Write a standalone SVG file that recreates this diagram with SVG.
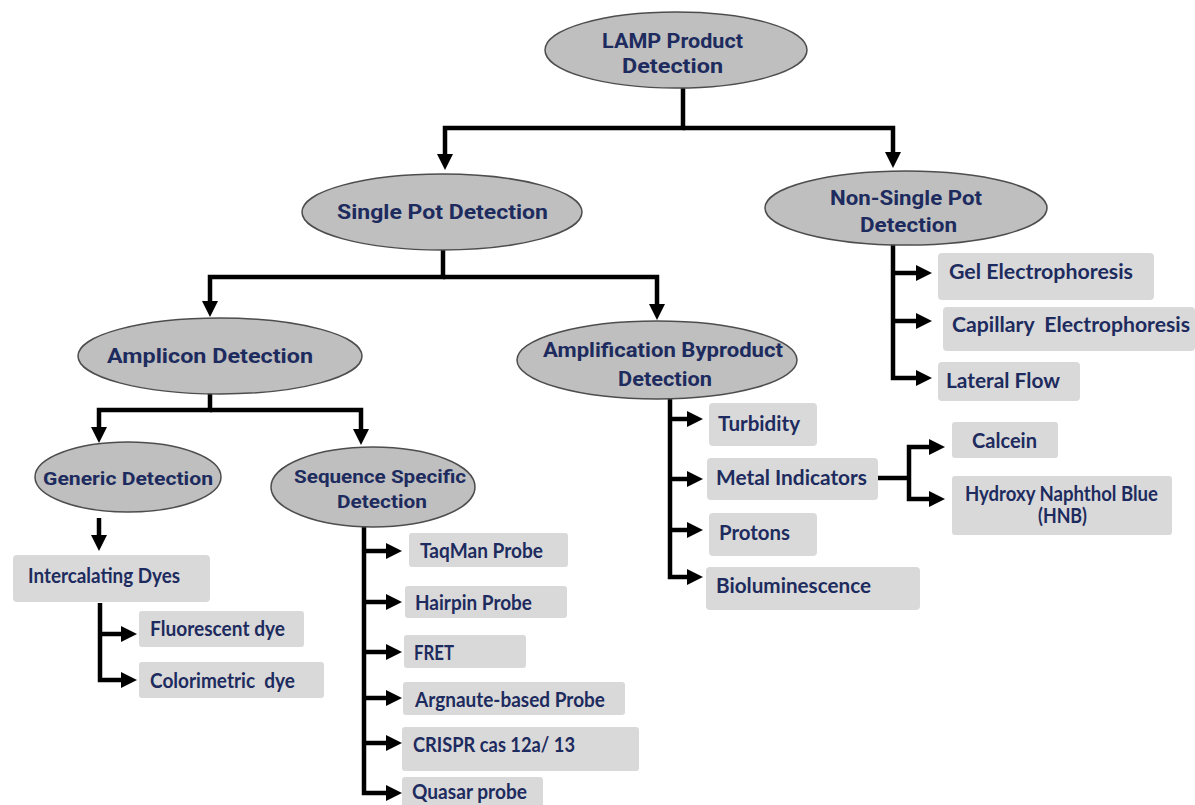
<svg xmlns="http://www.w3.org/2000/svg" width="1195" height="805" viewBox="0 0 1195 805">
<defs>
<marker id="arr" markerUnits="userSpaceOnUse" markerWidth="16" markerHeight="16" viewBox="0 0 16 16" refX="6" refY="8" orient="auto">
<path d="M0,0 L16,8 L0,16 z" fill="#000"/>
</marker>
<style>
.ell{fill:#bfbfbf;stroke:#4d4d4d;stroke-width:1.5}
.box{fill:#d9d9d9}
.et{font-family:Roboto,"Liberation Sans",sans-serif;font-weight:700;font-size:21px;fill:#1d2b5e;white-space:pre}
.es{font-size:19px}
.bt{font-family:Lato,"Liberation Sans",sans-serif;font-weight:700;font-size:20px;fill:#1d2b5e;white-space:pre}
.c{fill:none;stroke:#000;stroke-width:4.5;stroke-linejoin:miter}
.a{marker-end:url(#arr)}
</style>
</defs>
<rect width="1195" height="805" fill="#fff"/>

<g id="connectors">
<path class="c a" d="M683,88 V128 H445 V160"/>
<path class="c a" d="M683,128 H893 V158"/>
<path class="c a" d="M443,250 V277 H210 V307"/>
<path class="c a" d="M443,277 H657 V310"/>
<path class="c a" d="M210,393 V410 H99 V433"/>
<path class="c a" d="M210,410 H361 V435"/>
<path class="c a" d="M99,518 V541"/>
<path class="c a" d="M100,603 V680 H127"/>
<path class="c a" d="M100,634 H127"/>
<path class="c a" d="M364,525 V793 H392"/>
<path class="c a" d="M364,551 H392"/>
<path class="c a" d="M364,602 H392"/>
<path class="c a" d="M364,652 H392"/>
<path class="c a" d="M364,698 H392"/>
<path class="c a" d="M364,743 H392"/>
<path class="c a" d="M670,398 V577 H693"/>
<path class="c a" d="M670,419 H693"/>
<path class="c a" d="M670,479 H693"/>
<path class="c a" d="M670,530 H693"/>
<path class="c" d="M878,478 H909"/>
<path class="c a" d="M909,478 V447 H935"/>
<path class="c a" d="M909,478 V499 H935"/>
<path class="c a" d="M893,243 V378 H922"/>
<path class="c a" d="M893,273 H922"/>
<path class="c a" d="M893,321 H922"/>
</g>

<g id="lamp">
<ellipse class="ell" cx="676" cy="50" rx="131" ry="38"/>
<text class="et" x="672.5" y="48" text-anchor="middle" textLength="141" lengthAdjust="spacingAndGlyphs">LAMP Product</text>
<text class="et" x="672.5" y="73" text-anchor="middle" textLength="101" lengthAdjust="spacingAndGlyphs">Detection</text>
</g>

<g id="single-pot">
<ellipse class="ell" cx="442" cy="212" rx="140" ry="38"/>
<text class="et" x="442.5" y="219" text-anchor="middle" textLength="211" lengthAdjust="spacingAndGlyphs">Single Pot Detection</text>
</g>

<g id="non-single-pot">
<ellipse class="ell" cx="906" cy="208" rx="141" ry="37"/>
<text class="et" x="906" y="205" text-anchor="middle" textLength="152" lengthAdjust="spacingAndGlyphs">Non-Single Pot</text>
<text class="et" x="908.5" y="232" text-anchor="middle" textLength="97" lengthAdjust="spacingAndGlyphs">Detection</text>
</g>

<g id="amplicon">
<ellipse class="ell" cx="220" cy="356" rx="142" ry="38"/>
<text class="et" x="210" y="363" text-anchor="middle" textLength="206" lengthAdjust="spacingAndGlyphs">Amplicon Detection</text>
</g>

<g id="byproduct">
<ellipse class="ell" cx="657" cy="360" rx="140" ry="39"/>
<text class="et" x="663" y="357" text-anchor="middle" textLength="240" lengthAdjust="spacingAndGlyphs">Amplification Byproduct</text>
<text class="et" x="665" y="386" text-anchor="middle" textLength="94" lengthAdjust="spacingAndGlyphs">Detection</text>
</g>

<g id="generic">
<ellipse class="ell" cx="128" cy="477" rx="93" ry="35"/>
<text class="et es" x="128" y="485" text-anchor="middle" textLength="170" lengthAdjust="spacingAndGlyphs">Generic Detection</text>
</g>

<g id="sequence">
<ellipse class="ell" cx="373" cy="487" rx="102" ry="40"/>
<text class="et es" x="380" y="483" text-anchor="middle" textLength="172" lengthAdjust="spacingAndGlyphs">Sequence Specific</text>
<text class="et es" x="382" y="508" text-anchor="middle" textLength="90" lengthAdjust="spacingAndGlyphs">Detection</text>
</g>

<g id="gel">
<rect class="box" x="938" y="253" width="216" height="47" rx="4"/>
<text class="bt" x="949" y="279" textLength="184" lengthAdjust="spacingAndGlyphs">Gel Electrophoresis</text>
</g>
<g id="capillary">
<rect class="box" x="943" y="307" width="252" height="44" rx="4"/>
<text class="bt" x="952" y="332" textLength="238" lengthAdjust="spacingAndGlyphs">Capillary  Electrophoresis</text>
</g>
<g id="lateral">
<rect class="box" x="938" y="362" width="142" height="39" rx="4"/>
<text class="bt" x="946" y="388" textLength="114" lengthAdjust="spacingAndGlyphs">Lateral Flow</text>
</g>

<g id="turbidity">
<rect class="box" x="709" y="403" width="108" height="43" rx="4"/>
<text class="bt" x="718" y="431" textLength="82" lengthAdjust="spacingAndGlyphs">Turbidity</text>
</g>
<g id="metal">
<rect class="box" x="707" y="458" width="171" height="42" rx="4"/>
<text class="bt" x="716" y="485" textLength="151" lengthAdjust="spacingAndGlyphs">Metal Indicators</text>
</g>
<g id="protons">
<rect class="box" x="709" y="513" width="108" height="43" rx="4"/>
<text class="bt" x="719" y="540" textLength="71" lengthAdjust="spacingAndGlyphs">Protons</text>
</g>
<g id="bioluminescence">
<rect class="box" x="706" y="567" width="214" height="43" rx="4"/>
<text class="bt" x="716" y="593" textLength="155" lengthAdjust="spacingAndGlyphs">Bioluminescence</text>
</g>

<g id="calcein">
<rect class="box" x="952" y="422" width="106" height="36" rx="3"/>
<text class="bt" x="1004.5" y="448" text-anchor="middle" textLength="65" lengthAdjust="spacingAndGlyphs">Calcein</text>
</g>
<g id="hnb">
<rect class="box" x="952" y="476" width="220" height="59" rx="3"/>
<text class="bt" x="1061.5" y="501" text-anchor="middle" font-size="18" textLength="193" lengthAdjust="spacingAndGlyphs">Hydroxy Naphthol Blue</text>
<text class="bt" x="1062.5" y="523" text-anchor="middle" font-size="18" textLength="49" lengthAdjust="spacingAndGlyphs">(HNB)</text>
</g>

<g id="taqman">
<rect class="box" x="409" y="533" width="159" height="34" rx="3"/>
<text class="bt" x="420" y="558" font-size="18" textLength="123" lengthAdjust="spacingAndGlyphs">TaqMan Probe</text>
</g>
<g id="hairpin">
<rect class="box" x="405" y="586" width="162" height="32" rx="3"/>
<text class="bt" x="415" y="610" font-size="18" textLength="117" lengthAdjust="spacingAndGlyphs">Hairpin Probe</text>
</g>
<g id="fret">
<rect class="box" x="404" y="635" width="122" height="33" rx="3"/>
<text class="bt" x="414" y="660" font-size="18" textLength="40" lengthAdjust="spacingAndGlyphs">FRET</text>
</g>
<g id="argnaute">
<rect class="box" x="403" y="682" width="222" height="33" rx="3"/>
<text class="bt" x="415" y="707" font-size="18" textLength="190" lengthAdjust="spacingAndGlyphs">Argnaute-based Probe</text>
</g>
<g id="crispr">
<rect class="box" x="402" y="727" width="237" height="44" rx="3"/>
<text class="bt" x="413" y="752" font-size="18" textLength="162" lengthAdjust="spacingAndGlyphs">CRISPR cas 12a/ 13</text>
</g>
<g id="quasar">
<rect class="box" x="402" y="777" width="141" height="30" rx="3"/>
<text class="bt" x="412" y="799" font-size="18" textLength="115" lengthAdjust="spacingAndGlyphs">Quasar probe</text>
</g>

<g id="intercalating">
<rect class="box" x="13" y="555" width="197" height="47" rx="4"/>
<text class="bt" x="28" y="583" font-size="18" textLength="152" lengthAdjust="spacingAndGlyphs">Intercalating Dyes</text>
</g>
<g id="fluorescent">
<rect class="box" x="139" y="611" width="165" height="36" rx="3"/>
<text class="bt" x="150" y="636" font-size="18" textLength="135" lengthAdjust="spacingAndGlyphs">Fluorescent dye</text>
</g>
<g id="colorimetric">
<rect class="box" x="139" y="662" width="185" height="36" rx="3"/>
<text class="bt" x="150" y="688" font-size="18" textLength="145" lengthAdjust="spacingAndGlyphs">Colorimetric  dye</text>
</g>
</svg>
